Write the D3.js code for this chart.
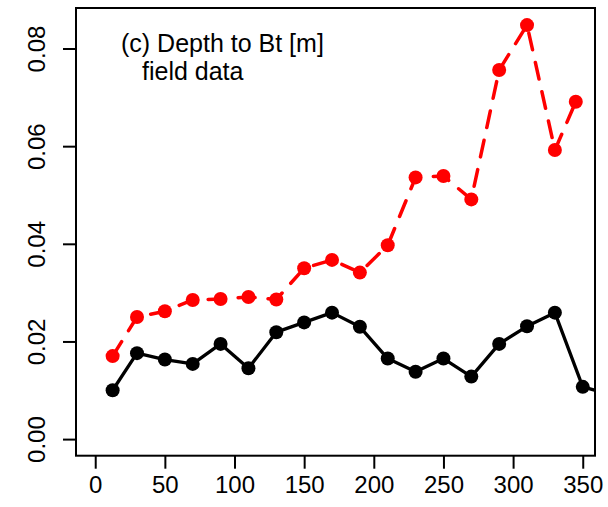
<!DOCTYPE html>
<html>
<head>
<meta charset="utf-8">
<script src="https://cdn.jsdelivr.net/npm/d3@7"></script>
<style>
  html, body { margin: 0; padding: 0; background: #fff; }
  svg { display: block; font-family: "Liberation Sans", Arial, Helvetica, sans-serif; }
</style>
</head>
<body>
<svg id="chart" width="608" height="507"></svg>
<script>
// ---- data ----
const distRed   = [12.5, 30, 50, 70, 90, 110, 130, 150, 170, 190, 210, 230, 250, 270, 290, 310, 330, 345];
const valuesRed = [0.0170, 0.0250, 0.0262, 0.0285, 0.0287, 0.0291, 0.0286, 0.0350, 0.0367, 0.0341, 0.0397,
                   0.0536, 0.0539, 0.0491, 0.0756, 0.0848, 0.0592, 0.0691];
const distBlack   = [12.5, 30, 50, 70, 90, 110, 130, 150, 170, 190, 210, 230, 250, 270, 290, 310, 330, 350, 370];
const valuesBlack = [0.0100, 0.0176, 0.0163, 0.0154, 0.0195, 0.0145, 0.0219, 0.0239, 0.0259, 0.0230, 0.0165,
                     0.0138, 0.0165, 0.0128, 0.0195, 0.0231, 0.0259, 0.0107, 0.0091];
const xTicks = [0, 50, 100, 150, 200, 250, 300, 350];
const yTicks = [0.00, 0.02, 0.04, 0.06, 0.08];
const titleLines = ["(c) Depth to Bt [m]", "field data"];

// ---- layout ----
const svg = d3.select("#chart");
const L = 76, R = 595, T = 8, B = 455.7;
const x = d3.scaleLinear().domain([-13.8, 358.8]).range([L, R]);
const y = d3.scaleLinear().domain([-0.0034, 0.0883]).range([B, T]);
const fs = 24;

svg.append("defs").append("clipPath").attr("id", "plotclip")
  .append("rect").attr("x", L).attr("y", T).attr("width", R - L).attr("height", B - T);

// axes
const xAxis = svg.append("g").attr("transform", `translate(0,${B})`)
  .call(d3.axisBottom(x).tickValues(xTicks).tickSize(13).tickPadding(7).tickFormat(d3.format("d")));
xAxis.select(".domain").remove();
xAxis.selectAll("line").attr("stroke", "#000").attr("stroke-width", 2);
xAxis.selectAll("text").attr("font-size", fs).attr("fill", "#000").attr("font-family", null);

const yAxis = svg.append("g").attr("transform", `translate(${L},0)`)
  .call(d3.axisLeft(y).tickValues(yTicks).tickSize(13).tickFormat(d3.format(".2f")));
yAxis.select(".domain").remove();
yAxis.selectAll("line").attr("stroke", "#000").attr("stroke-width", 2);
yAxis.selectAll("text")
  .attr("font-size", fs).attr("fill", "#000").attr("font-family", null)
  .attr("x", null).attr("dy", null)
  .attr("text-anchor", "middle")
  .attr("transform", "translate(-31,0) rotate(-90)");

// plot box
svg.append("rect").attr("x", L).attr("y", T).attr("width", R - L).attr("height", B - T)
  .attr("fill", "none").attr("stroke", "#000").attr("stroke-width", 2);

// series
const plot = svg.append("g").attr("clip-path", "url(#plotclip)");
const blackData = distBlack.map((d, i) => [d, valuesBlack[i]]);
const redData = distRed.map((d, i) => [d, valuesRed[i]]);
const line = d3.line().x(d => x(d[0])).y(d => y(d[1]));

plot.append("path").datum(blackData).attr("d", line)
  .attr("fill", "none").attr("stroke", "#000").attr("stroke-width", 3.3)
  .attr("stroke-linejoin", "round").attr("stroke-linecap", "round");
plot.selectAll("circle.blk").data(blackData).join("circle").attr("class", "blk")
  .attr("cx", d => x(d[0])).attr("cy", d => y(d[1])).attr("r", 7).attr("fill", "#000");

plot.append("path").datum(redData).attr("d", line)
  .attr("fill", "none").attr("stroke", "#ff0000").attr("stroke-width", 3.5)
  .attr("stroke-dasharray", "17,13")
  .attr("stroke-linejoin", "round").attr("stroke-linecap", "round");
plot.selectAll("circle.red").data(redData).join("circle").attr("class", "red")
  .attr("cx", d => x(d[0])).attr("cy", d => y(d[1])).attr("r", 7).attr("fill", "#ff0000");

// title text
svg.append("text").attr("x", 121).attr("y", 51.5).attr("font-size", 25).text(titleLines[0]);
svg.append("text").attr("x", 142).attr("y", 80).attr("font-size", 25).text(titleLines[1]);
</script>
</body>
</html>
